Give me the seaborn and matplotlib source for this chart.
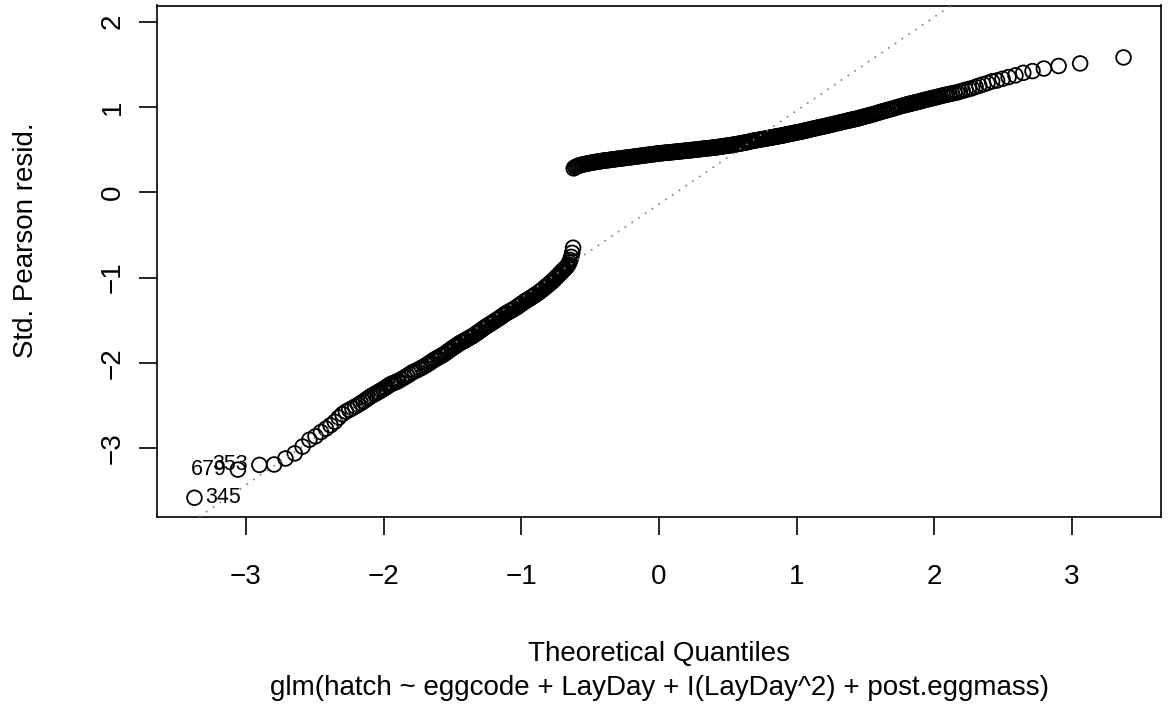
import numpy as np
import pandas as pd
import matplotlib
matplotlib.use("Agg")
import matplotlib.pyplot as plt
import seaborn as sns
from statistics import NormalDist

# Standardized Pearson residuals of the hatching GLM, sorted ascending.
# Each block holds the residuals of order statistics start, start+step, ...
n_obs = 1350

resid_low_a = [  # ranks 1-40, every rank
    -3.58, -3.25, -3.195, -3.19, -3.12, -3.06, -2.98, -2.90, -2.86, -2.81,
    -2.77, -2.73, -2.69, -2.64, -2.60, -2.57, -2.55, -2.53, -2.51, -2.49,
    -2.47, -2.45, -2.43, -2.41, -2.39, -2.376, -2.362, -2.348, -2.334, -2.32,
    -2.306, -2.292, -2.278, -2.264, -2.25, -2.242, -2.234, -2.226, -2.218, -2.21,
]
resid_low_b = [  # ranks 42-120, every 2nd rank
    -2.19, -2.17, -2.15, -2.13, -2.11, -2.096, -2.082, -2.068, -2.054, -2.04,
    -2.024, -2.008, -1.992, -1.976, -1.96, -1.948, -1.936, -1.924, -1.912, -1.90,
    -1.886, -1.872, -1.858, -1.844, -1.83, -1.818, -1.806, -1.794, -1.782, -1.77,
    -1.761, -1.752, -1.743, -1.734, -1.725, -1.716, -1.707, -1.698, -1.689, -1.68,
]
resid_low_c = [  # ranks 123-360, every 3rd rank
    -1.665, -1.65, -1.635, -1.62, -1.605, -1.59, -1.576, -1.564, -1.552, -1.54,
    -1.528, -1.516, -1.504, -1.492, -1.48, -1.468, -1.456, -1.444, -1.432, -1.42,
    -1.411, -1.402, -1.393, -1.384, -1.375, -1.366, -1.357, -1.346, -1.336, -1.325,
    -1.315, -1.304, -1.294, -1.284, -1.275, -1.266, -1.257, -1.248, -1.239, -1.23,
    -1.221, -1.212, -1.203, -1.194, -1.185, -1.176, -1.166, -1.156, -1.146, -1.135,
    -1.125, -1.114, -1.104, -1.093, -1.083, -1.072, -1.062, -1.051, -1.041, -1.03,
    -1.018, -1.006, -0.994, -0.982, -0.970, -0.958, -0.946, -0.934, -0.922, -0.910,
    -0.899, -0.888, -0.876, -0.862, -0.845, -0.822, -0.793, -0.757, -0.710, -0.650,
]
resid_up_a = [  # ranks 362-1062, every 5th rank
    0.280, 0.294, 0.303, 0.311, 0.317, 0.321, 0.325, 0.329, 0.333, 0.337,
    0.340, 0.343, 0.347, 0.350, 0.353, 0.356, 0.358, 0.361, 0.364, 0.366,
    0.369, 0.371, 0.373, 0.375, 0.377, 0.379, 0.382, 0.384, 0.386, 0.388,
    0.390, 0.392, 0.394, 0.396, 0.398, 0.400, 0.402, 0.404, 0.406, 0.408,
    0.410, 0.412, 0.414, 0.416, 0.418, 0.420, 0.422, 0.424, 0.426, 0.428,
    0.430, 0.432, 0.434, 0.436, 0.438, 0.440, 0.442, 0.444, 0.446, 0.448,
    0.450, 0.452, 0.454, 0.456, 0.457, 0.459, 0.460, 0.462, 0.463, 0.465,
    0.466, 0.468, 0.469, 0.471, 0.472, 0.474, 0.475, 0.477, 0.479, 0.480,
    0.482, 0.483, 0.485, 0.487, 0.488, 0.490, 0.491, 0.493, 0.495, 0.496,
    0.498, 0.500, 0.501, 0.503, 0.505, 0.507, 0.508, 0.510, 0.512, 0.514,
    0.516, 0.517, 0.519, 0.521, 0.523, 0.525, 0.527, 0.529, 0.531, 0.534,
    0.536, 0.539, 0.541, 0.544, 0.546, 0.549, 0.551, 0.554, 0.556, 0.560,
    0.563, 0.566, 0.569, 0.573, 0.576, 0.579, 0.583, 0.586, 0.590, 0.595,
    0.600, 0.604, 0.607, 0.610, 0.614, 0.617, 0.621, 0.624, 0.628, 0.631,
    0.635,
]
resid_up_b = [  # ranks 1065-1236, every 3rd rank
    0.638, 0.640, 0.642, 0.645, 0.647, 0.649, 0.652, 0.654, 0.656, 0.659,
    0.661, 0.663, 0.666, 0.669, 0.672, 0.675, 0.678, 0.681, 0.684, 0.687,
    0.690, 0.693, 0.696, 0.699, 0.702, 0.705, 0.708, 0.711, 0.714, 0.718,
    0.722, 0.725, 0.729, 0.733, 0.737, 0.741, 0.745, 0.749, 0.752, 0.757,
    0.761, 0.764, 0.768, 0.772, 0.776, 0.780, 0.785, 0.790, 0.794, 0.799,
    0.804, 0.809, 0.814, 0.818, 0.824, 0.829, 0.835, 0.840,
]
resid_up_c = [  # ranks 1238-1300, every 2nd rank
    0.843, 0.847, 0.851, 0.854, 0.858, 0.861, 0.865, 0.870, 0.875, 0.880,
    0.885, 0.890, 0.895, 0.900, 0.905, 0.910, 0.915, 0.922, 0.928, 0.935,
    0.941, 0.948, 0.954, 0.961, 0.967, 0.974, 0.980, 0.988, 0.996, 1.004,
    1.012, 1.020,
]
resid_up_d = [  # ranks 1301-1350, every rank
    1.024, 1.028, 1.032, 1.036, 1.040, 1.044, 1.048, 1.052, 1.056, 1.060,
    1.065, 1.070, 1.075, 1.080, 1.085, 1.090, 1.095, 1.100, 1.105, 1.110,
    1.116, 1.122, 1.128, 1.134, 1.140, 1.146, 1.152, 1.158, 1.164, 1.170,
    1.180, 1.190, 1.200, 1.210, 1.220, 1.235, 1.250, 1.265, 1.280, 1.300,
    1.310, 1.330, 1.350, 1.370, 1.400, 1.420, 1.450, 1.480, 1.510, 1.580,
]

blocks = [
    (1, 1, resid_low_a),
    (42, 2, resid_low_b),
    (123, 3, resid_low_c),
    (362, 5, resid_up_a),
    (1065, 3, resid_up_b),
    (1238, 2, resid_up_c),
    (1301, 1, resid_up_d),
]

# observations with the three largest |residuals| and their order ranks
outlier_ids = ["345", "679", "353"]
outlier_ranks = [1, 2, 3]

model_call = "glm(hatch ~ eggcode + LayDay + I(LayDay^2) + post.eggmass)"

# ---- normal Q-Q positions -------------------------------------------------
ranks = np.concatenate([start + step * np.arange(len(v)) for start, step, v in blocks])
resid = np.concatenate([np.asarray(v, dtype=float) for _, _, v in blocks])
nd = NormalDist()
theo = np.array([nd.inv_cdf((r - 0.5) / n_obs) for r in ranks])
df = pd.DataFrame({"theoretical": theo, "resid": resid})

# reference line through the quartiles (type-7 order statistics)
def sample_quantile(p):
    h = (n_obs - 1) * p + 1
    return float(np.interp(h, ranks, resid))

q1, q3 = sample_quantile(0.25), sample_quantile(0.75)
z1, z3 = nd.inv_cdf(0.25), nd.inv_cdf(0.75)
slope = (q3 - q1) / (z3 - z1)
intercept = q1 - slope * z1

# ---- styling --------------------------------------------------------------
sns.set_style("ticks", {"axes.edgecolor": "black", "xtick.color": "black",
                        "ytick.color": "black", "text.color": "black",
                        "axes.labelcolor": "black"})
plt.rcParams["font.family"] = ["Liberation Sans", "DejaVu Sans"]
plt.rcParams["axes.unicode_minus"] = True

W, H = 1172, 719
fig = plt.figure(figsize=(W / 100, H / 100), dpi=100)
ax_left, ax_right, ax_top, ax_bottom = 157.3, 1160.7, 5.5, 516.7
ax = fig.add_axes([ax_left / W, 1 - ax_bottom / H,
                   (ax_right - ax_left) / W, (ax_bottom - ax_top) / H])

sns.scatterplot(data=df, x="theoretical", y="resid", ax=ax, marker="o",
                s=112, linewidth=1.3, edgecolor="black", legend=False, zorder=2)
pts = ax.collections[-1]
pts.set_facecolor("none")
pts.set_edgecolor("black")

ax.axline((0.0, intercept), slope=slope, color="#7f7f7f", lw=1.2,
          linestyle=(0, (1, 3.9)), zorder=3)

# axis ranges: 4% padding, extra 7.5% headroom on top for labels
x_lo, x_hi = nd.inv_cdf(0.5 / n_obs), nd.inv_cdf((n_obs - 0.5) / n_obs)
xpad = 0.04 * (x_hi - x_lo)
ax.set_xlim(x_lo - xpad, x_hi + xpad)
y_lo, y_hi = resid.min(), resid.max()
y_hi = y_hi + 0.075 * (y_hi - y_lo)
ypad = 0.04 * (y_hi - y_lo)
ax.set_ylim(y_lo - ypad, y_hi + ypad)

ax.set_xticks(range(-3, 4))
ax.set_yticks(range(-3, 3))
for s in ax.spines.values():
    s.set_visible(True)
    s.set_linewidth(1.2)
ax.tick_params(axis="both", which="major", direction="out", length=13.2,
               width=1.2, labelsize=20)
ax.tick_params(axis="x", pad=21.0)
ax.tick_params(axis="y", pad=9.5, labelrotation=90)
for lab in ax.get_yticklabels():
    lab.set_va("center")

# labels of the extreme observations
lab_x = [theo[np.where(ranks == r)[0][0]] for r in outlier_ranks]
mid_x = (min(lab_x) + max(lab_x)) / 2
for rk, oid in zip(outlier_ranks, outlier_ids):
    i = np.where(ranks == rk)[0][0]
    xx, yy = theo[i], resid[i]
    to_left = xx > mid_x
    ax.annotate(oid, (xx, yy), xytext=(-8 if to_left else 8, 0),
                textcoords="offset points", ha="right" if to_left else "left",
                va="center", fontsize=15.5, annotation_clip=False, zorder=4)

ax_h = ax_bottom - ax_top
ax_w = ax_right - ax_left
ax.set_xlabel("Theoretical Quantiles", fontsize=20)
ax.xaxis.label.set_va("baseline")
ax.xaxis.set_label_coords(0.5, (ax_bottom - 661) / ax_h)
ax.set_ylabel("Std. Pearson resid.", fontsize=20)
ax.yaxis.label.set_va("center")
ax.yaxis.set_label_coords((26 - ax_left) / ax_w, (ax_bottom - 240) / ax_h)

fig.text((ax_left + ax_right) / 2 / W, 1 - 695 / H, model_call,
         ha="center", va="baseline", fontsize=20)

fig.savefig("out.png", dpi=100, facecolor="white")
